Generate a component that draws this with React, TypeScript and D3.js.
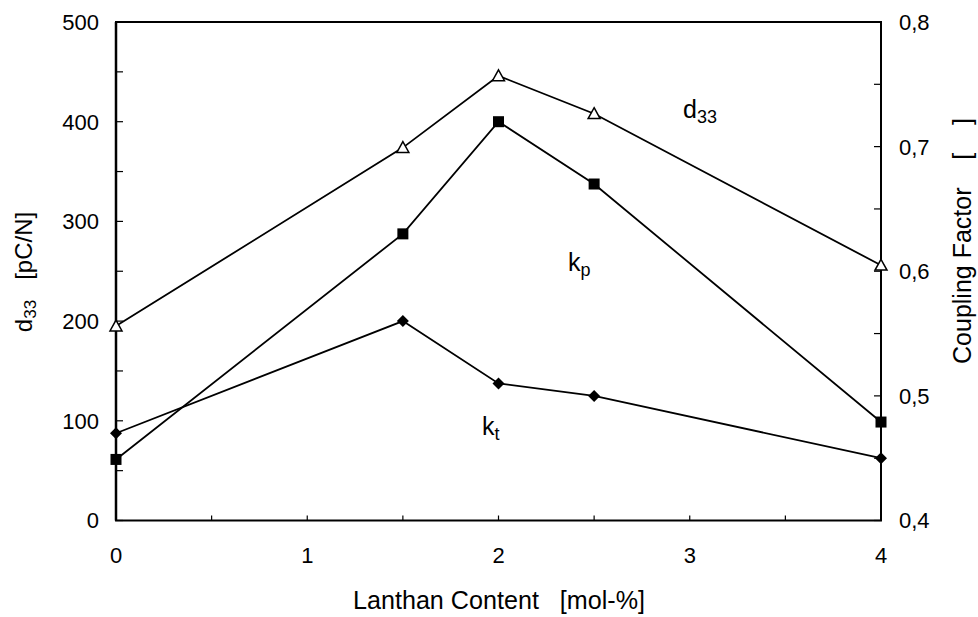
import React from "react";
import * as d3 from "d3";

const lanthan = [0, 1.5, 2, 2.5, 4];
const d33Values = [195, 374, 446, 408, 256];
const kpValues = [0.449, 0.63, 0.72, 0.67, 0.479];
const ktValues = [0.47, 0.56, 0.51, 0.5, 0.45];
const xTickLabels = [0, 1, 2, 3, 4];
const leftTickLabels = [0, 100, 200, 300, 400, 500];
const rightTickLabels = [0.4, 0.5, 0.6, 0.7, 0.8];

const W = 978;
const H = 617;
const L = 116;
const R = 881;
const T = 22;
const B = 520.5;
const FONT = "'Liberation Sans', Arial, sans-serif";

export default function App() {
  const x = d3.scaleLinear().domain([0, 4]).range([L, R]);
  const yL = d3.scaleLinear().domain([0, 500]).range([B, T]);
  const yR = d3.scaleLinear().domain([0.4, 0.8]).range([B, T]);

  const lineL = d3.line<number>().x((_, i) => x(lanthan[i])).y((d) => yL(d));
  const lineR = d3.line<number>().x((_, i) => x(lanthan[i])).y((d) => yR(d));

  const xMinor = d3.range(0, 4.0001, 0.5);
  const lMinor = d3.range(0, 500.001, 50);
  const rMinor = d3.range(0.4, 0.8001, 0.05);
  const fmtR = (v: number) => v.toFixed(1).replace(".", ",");

  const tri = (cx: number, cy: number) => {
    const s = 6;
    return `M${cx},${cy - s} L${cx + s},${cy + s * 0.8} L${cx - s},${cy + s * 0.8} Z`;
  };
  const dia = (cx: number, cy: number) => {
    const s = 6;
    return `M${cx},${cy - s} L${cx + s},${cy} L${cx},${cy + s} L${cx - s},${cy} Z`;
  };

  return (
    <svg width={W} height={H} style={{ position: "absolute", left: 0, top: 0, background: "#fff" }} fontFamily={FONT}>
      {/* frame */}
      <rect x={L} y={T} width={R - L} height={B - T} fill="none" stroke="#000" strokeWidth={2} />
      <line x1={L} x2={L} y1={T} y2={B} stroke="#000" strokeWidth={2.5} />
      {/* ticks */}
      {xMinor.map((v) => (
        <line key={"xt" + v} x1={x(v)} x2={x(v)} y1={B} y2={B - 5} stroke="#000" strokeWidth={1.2} />
      ))}
      {lMinor.map((v) => (
        <line key={"lt" + v} x1={L} x2={L + 7} y1={yL(v)} y2={yL(v)} stroke="#000" strokeWidth={1.2} />
      ))}
      {rMinor.map((v) => (
        <line key={"rt" + v} x1={R} x2={R - 7} y1={yR(v)} y2={yR(v)} stroke="#000" strokeWidth={1.2} />
      ))}
      {/* tick labels */}
      {xTickLabels.map((v) => (
        <text key={"xl" + v} x={x(v)} y={563} textAnchor="middle" fontSize={22}>
          {v}
        </text>
      ))}
      {leftTickLabels.map((v) => (
        <text key={"ll" + v} x={99} y={yL(v)} dy="0.36em" textAnchor="end" fontSize={22}>
          {v}
        </text>
      ))}
      {rightTickLabels.map((v) => (
        <text key={"rl" + v} x={899} y={yR(v)} dy="0.36em" textAnchor="start" fontSize={22}>
          {fmtR(v)}
        </text>
      ))}
      {/* lines */}
      <path d={lineL(d33Values) || ""} fill="none" stroke="#000" strokeWidth={1.8} />
      <path d={lineR(kpValues) || ""} fill="none" stroke="#000" strokeWidth={1.8} />
      <path d={lineR(ktValues) || ""} fill="none" stroke="#000" strokeWidth={1.8} />
      {/* markers */}
      {d33Values.map((v, i) => (
        <path key={"m1" + i} d={tri(x(lanthan[i]), yL(v))} fill="#fff" stroke="#000" strokeWidth={1.5} />
      ))}
      {kpValues.map((v, i) => (
        <rect key={"m2" + i} x={x(lanthan[i]) - 5.5} y={yR(v) - 5.5} width={11} height={11} fill="#000" />
      ))}
      {ktValues.map((v, i) => (
        <path key={"m3" + i} d={dia(x(lanthan[i]), yR(v))} fill="#000" />
      ))}
      {/* series labels */}
      <text x={683} y={118} fontSize={25}>
        d<tspan fontSize={18} dy={5}>33</tspan>
      </text>
      <text x={568} y={271} fontSize={25}>
        k<tspan fontSize={18} dy={5}>p</tspan>
      </text>
      <text x={482} y={435} fontSize={25}>
        k<tspan fontSize={18} dy={5}>t</tspan>
      </text>
      {/* axis titles */}
      <text x={353} y={609} fontSize={25} textLength={292} lengthAdjust="spacingAndGlyphs" style={{ whiteSpace: "pre" }}>
        {"Lanthan Content   [mol-%]"}
      </text>
      <text transform={`translate(32,272) rotate(-90)`} textAnchor="middle" fontSize={24} style={{ whiteSpace: "pre" }}>
        d<tspan fontSize={17} dy={4}>33</tspan>
        <tspan dy={-4}>{"   [pC/N]"}</tspan>
      </text>
      <text transform={`translate(971,241) rotate(-90)`} textAnchor="middle" fontSize={25} style={{ whiteSpace: "pre" }}>
        {"Coupling Factor    [    ]"}
      </text>
    </svg>
  );
}
